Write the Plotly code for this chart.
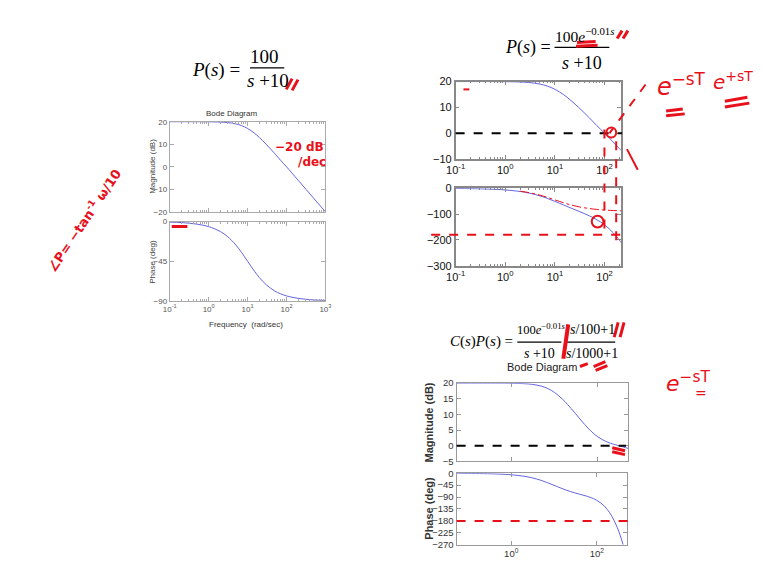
import plotly.graph_objects as go

W, H = 763, 577
def px(x): return x / W
def py(y): return 1 - y / H

# ---------------- data ----------------
# Left: P(s) = 100/(s+10)
w_left = [0.1, 0.2, 0.5, 1, 2, 3, 5, 7, 10, 15, 20, 30, 50, 70, 100, 200, 500, 1000]
mag_left = [20.0, 20.0, 20.0, 19.96, 19.83, 19.63, 19.03, 18.27, 17.0, 14.9, 13.0, 10.0, 5.85, 2.9, 0.0, -6.0, -14.0, -20.0]
phase_left = [-0.6, -1.1, -2.9, -5.7, -11.3, -16.7, -26.6, -35.0, -45.0, -56.3, -63.4, -71.6, -78.7, -81.9, -84.3, -87.1, -88.9, -89.4]

# Top right: P(s) = 100 e^{-0.01s}/(s+10)
w_tr = [0.1, 0.2, 0.5, 1, 2, 3, 5, 7, 10, 15, 20, 30, 50, 70, 100, 150, 200, 215]
mag_tr = [20.0, 20.0, 20.0, 19.96, 19.83, 19.63, 19.03, 18.27, 17.0, 14.9, 13.0, 10.0, 5.85, 2.9, 0.0, -3.5, -6.0, -6.7]
phase_tr = [-0.6, -1.3, -3.2, -6.3, -12.5, -18.4, -29.4, -39.0, -50.7, -64.9, -74.9, -88.8, -107.3, -122.0, -141.6, -172.8, -201.7, -210.5]
w_tr_nd = [2, 3, 5, 7, 10, 15, 20, 30, 50, 70, 100, 150, 200, 215]
phase_tr_nd = [-11.3, -16.7, -26.6, -35.0, -45.0, -56.3, -63.4, -71.6, -78.7, -81.9, -84.3, -86.2, -87.1, -87.3]

# Bottom right: C(s)P(s)
w_br = [0.053, 0.1, 0.5, 1, 2, 3, 5, 7, 10, 15, 20, 30, 50, 70, 100, 150, 200, 300, 400, 505]
mag_br = [20.0, 20.0, 20.0, 19.96, 19.83, 19.63, 19.03, 18.27, 17.0, 15.0, 13.2, 10.4, 6.8, 4.7, 2.9, 1.5, 0.8, 0.1, -0.4, -0.8]
w_br_ph = [0.053, 0.1, 0.5, 1, 2, 3, 5, 10, 20, 30, 50, 70, 100, 150, 200, 250, 300, 350, 410]
phase_br = [0.0, -0.6, -2.9, -5.8, -11.4, -16.9, -26.9, -45.6, -64.7, -73.8, -83.6, -91.0, -102.3, -124.3, -149.6, -176.8, -205.1, -234.1, -270.0]

ticks_left_x = [0.1, 1, 10, 100, 1000]
ticks_tr_x = [0.1, 1, 10, 100]
ticks_br_x = [1, 100]
labels_pow = {0.1: "10<sup>-1</sup>", 1: "10<sup>0</sup>", 10: "10<sup>1</sup>", 100: "10<sup>2</sup>", 1000: "10<sup>3</sup>"}
yt_left_mag = [-20, -10, 0, 10, 20]
yt_left_ph = [-90, -45, 0]
yt_tr_mag = [-10, 0, 10, 20]
yt_tr_ph = [-300, -200, -100, 0]
yt_br_mag = [-5, 0, 5, 10, 15, 20]
yt_br_ph = [-270, -225, -180, -135, -90, -45, 0]

BLUE = "#6464e0"
RED = "#e8101a"

def minor_vals(lo_exp, hi_exp):
    out = []
    for e in range(lo_exp, hi_exp + 1):
        for m in range(2, 10):
            out.append(m * 10 ** e)
    return out

fig = go.Figure()

def add_axes(n, xdom, ydom, xrange, yrange, xticks, yticks, showxlabels, font, lcolor, lwidth, minor):
    xa = dict(type="log", domain=[px(xdom[0]), px(xdom[1])], range=xrange,
              tickmode="array", tickvals=xticks,
              ticktext=[labels_pow[v] for v in xticks] if showxlabels else [""] * len(xticks),
              ticks="inside", ticklen=4, tickcolor=lcolor, showline=True, linecolor=lcolor,
              linewidth=lwidth, mirror="ticks", showgrid=False, zeroline=False,
              tickfont=font, anchor="y%d" % n if n > 1 else "y")
    if minor:
        xa["minor"] = dict(tickmode="array", tickvals=minor, ticks="inside", ticklen=2, tickcolor=lcolor)
    ya = dict(domain=[py(ydom[1]), py(ydom[0])], range=yrange, tickmode="array", tickvals=yticks,
              ticks="inside", ticklen=4, tickcolor=lcolor, showline=True, linecolor=lcolor,
              linewidth=lwidth, mirror="ticks", showgrid=False, zeroline=False,
              tickfont=font, anchor="x%d" % n if n > 1 else "x")
    key = "" if n == 1 else str(n)
    fig.update_layout(**{"xaxis" + key: xa, "yaxis" + key: ya})

fl = dict(family="Liberation Sans", size=8, color="#555")
ftr = dict(family="Liberation Sans", size=11, color="#111")
fbr = dict(family="Liberation Sans", size=9.5, color="#333")

add_axes(1, (155, 314), (110, 202), [-1, 3], [-20, 20], ticks_left_x, yt_left_mag, False, fl, "#aaa", 1, minor_vals(-1, 2))
add_axes(2, (155, 314), (212, 293), [-1, 3], [-90, 0], ticks_left_x, yt_left_ph, True, fl, "#aaa", 1, minor_vals(-1, 2))
add_axes(3, (447, 616), (69, 148), [-1, 2.333], [-10, 20], ticks_tr_x, yt_tr_mag, True, ftr, "#888", 1.5, minor_vals(-1, 2))
add_axes(4, (447, 616), (178, 257), [-1, 2.333], [-300, 0], ticks_tr_x, yt_tr_ph, True, ftr, "#888", 1.5, minor_vals(-1, 2))
add_axes(5, (448, 623), (377, 457), [-1.276, 2.703], [-5, 20], ticks_br_x, yt_br_mag, False, fbr, "#999", 1.2, None)
add_axes(6, (448, 622), (469, 542), [-1.276, 2.703], [-270, 0], ticks_br_x, yt_br_ph, True, fbr, "#999", 1.2, None)

def line(n, x, y, color=BLUE, width=1, dash=None):
    key = "" if n == 1 else str(n)
    fig.add_trace(go.Scatter(x=x, y=y, mode="lines", line=dict(color=color, width=width, dash=dash, shape="spline"),
                             xaxis="x" + key, yaxis="y" + key, showlegend=False, hoverinfo="skip"))

line(1, w_left, mag_left)
line(2, w_left, phase_left)
line(3, w_tr, mag_tr)
line(4, w_tr, phase_tr)
line(4, w_tr_nd, phase_tr_nd, color=RED, width=1, dash="dashdot")
line(5, w_br, mag_br)
line(6, w_br_ph, phase_br)

shapes = []
# reference lines on axes values
shapes.append(dict(type="line", xref="paper", yref="y3", x0=px(447), x1=px(617), y0=0, y1=0,
                   line=dict(color="black", width=2, dash="dash")))
shapes.append(dict(type="line", xref="paper", yref="y4", x0=px(422), x1=px(624), y0=-180, y1=-180,
                   line=dict(color=RED, width=2, dash="dash")))
shapes.append(dict(type="line", xref="paper", yref="y5", x0=px(448), x1=px(621), y0=0, y1=0,
                   line=dict(color="black", width=2, dash="dash")))
shapes.append(dict(type="line", xref="paper", yref="y6", x0=px(448), x1=px(627), y0=-180, y1=-180,
                   line=dict(color=RED, width=2, dash="dash")))

def seg(x0, y0, x1, y1, color=RED, width=3, dash=None):
    shapes.append(dict(type="line", xref="paper", yref="paper", x0=px(x0), y0=py(y0), x1=px(x1), y1=py(y1),
                       line=dict(color=color, width=width, dash=dash)))

def hline(x0, x1, y, width=1.3, color="black"):
    seg(x0, y, x1, y, color=color, width=width)

def circ(cx, cy, r, width=2):
    shapes.append(dict(type="circle", xref="paper", yref="paper", x0=px(cx - r), x1=px(cx + r),
                       y0=py(cy + r), y1=py(cy - r), line=dict(color=RED, width=width)))

# fraction bars of formulas
hline(237, 272, 55)
hline(548, 604, 34)
hline(510, 555, 335)
hline(560, 610, 335)

# handwritten strokes
seg(274, 77, 280, 66); seg(280, 78, 286, 67)           # left //
seg(157, 217, 173, 217)                                 # left phase mark
seg(455, 77, 461, 77, width=2)                          # TR small dash
seg(571, 29, 590, 28); seg(570, 33, 592, 32)            # under e
seg(612, 25, 617, 17); seg(618, 25, 623, 17)            # TR //
seg(641, 72, 604, 122, width=2, dash="dash")            # diagonal dashed
seg(622, 138, 633, 159, width=2)
circ(606, 121, 5)
seg(599, 118, 599, 228, width=2, dash="dash")
seg(611, 130, 611, 232, width=2, dash="dash")
circ(592, 212, 6)
seg(662, 99, 679, 97); seg(662, 104, 681, 102)          # = under e^-sT
seg(722, 89, 745, 85); seg(722, 95, 747, 91)            # = under e^+sT
seg(557, 352, 562, 317, width=4)                        # BR big /
seg(609, 330, 613, 315); seg(615, 330, 619, 315)        # BR //
seg(574, 360, 582, 357); seg(588, 360, 600, 355); seg(590, 364, 602, 359)
seg(607, 443, 620, 446); seg(607, 447, 620, 450)        # BR mag marks

fig.update_layout(shapes=shapes)

ann = []
def txt(x, y, text, size=12, color="black", family="Liberation Serif", angle=0, xanchor="center", yanchor="middle"):
    ann.append(dict(x=px(x), y=py(y), xref="paper", yref="paper", text=text, showarrow=False,
                    font=dict(size=size, color=color, family=family), textangle=angle,
                    xanchor=xanchor, yanchor=yanchor, borderpad=0))

# formulas
txt(228, 57, "<i>P</i>(<i>s</i>) =", size=19, xanchor="right")
txt(252, 43, "100", size=19)
txt(255, 68, "<i>s</i> +10", size=19)
txt(545, 34, "<i>P</i>(<i>s</i>) =", size=18, xanchor="right")
txt(547, 21, "100<i>e</i><sup>−0.01<i>s</i></sup>", size=15.5, xanchor="left")
txt(576, 50, "<i>s</i> +10", size=18)
txt(507, 334, "<i>C</i>(<i>s</i>)<i>P</i>(<i>s</i>) =", size=15, xanchor="right")
txt(509, 322, "100<i>e</i><sup>−0.01<i>s</i></sup>", size=12.5, xanchor="left")
txt(533, 347, "<i>s</i> +10", size=14)
txt(587, 322, "<i>s</i>/100+1", size=14)
txt(586, 347, "<i>s</i>/1000+1", size=14)

# chart texts
txt(218, 102, "Bode Diagram", size=8, family="Liberation Sans", color="#333")
txt(233, 317, "Frequency  (rad/sec)", size=8, family="Liberation Sans", color="#333")
txt(138, 156, "Magnitude (dB)", size=8, family="Liberation Sans", color="#444", angle=-90)
txt(138, 253, "Phase (deg)", size=8, family="Liberation Sans", color="#444", angle=-90)
txt(535, 361, "Bode Diagram", size=11, family="Liberation Sans", color="#222")
txt(420, 417, "<b>Magnitude (dB)</b>", size=11, family="Liberation Sans", color="#333", angle=-90)
txt(420, 505, "<b>Phase (deg)</b>", size=11, family="Liberation Sans", color="#333", angle=-90)

# handwritten notes
HF = "DejaVu Sans"
txt(67, 210, "<b>∠P= −tan<sup>-1</sup> ω/10</b>", size=13, color=RED, family=HF, angle=-56)
txt(288, 136, "<b>−20 dB</b>", size=12, color=RED, family=HF)
txt(300, 151, "<b>/dec</b>", size=12, color=RED, family=HF)
txt(678, 72, "<i>e</i><sup>−sT</sup>", size=24, color=RED, family=HF)
txt(730, 68, "<i>e</i><sup>+sT</sup>", size=20, color=RED, family=HF)
txt(758, 66, "?", size=16, color=RED, family=HF)
txt(684, 376, "<i>e</i><sup>−sT</sup>", size=22, color=RED, family=HF)
txt(698, 387, "=", size=14, color=RED, family=HF)

fig.update_layout(annotations=ann, width=W, height=H, margin=dict(l=0, r=0, t=0, b=0),
                  paper_bgcolor="white", plot_bgcolor="white", showlegend=False)

fig.write_html("out.html")
